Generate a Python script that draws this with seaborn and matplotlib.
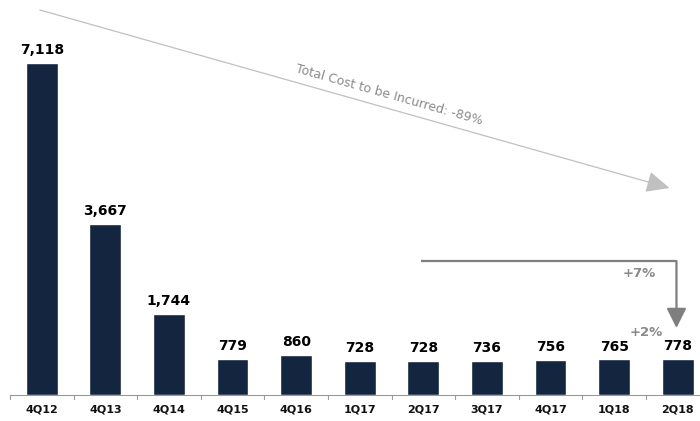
import matplotlib
matplotlib.use("Agg")
import matplotlib.pyplot as plt
import seaborn as sns
import pandas as pd

quarters = ["4Q12", "4Q13", "4Q14", "4Q15", "4Q16", "1Q17", "2Q17", "3Q17", "4Q17", "1Q18", "2Q18"]
cost = [7118, 3667, 1744, 779, 860, 728, 728, 736, 756, 765, 778]

sns.set_theme(style="white")
plt.rcParams["font.family"] = ["DejaVu Sans"]

df = pd.DataFrame({"quarter": quarters, "cost": cost})

fig = plt.figure(figsize=(7.0, 4.21), dpi=100)
ax = fig.add_axes([10 / 700, 26 / 421, 690 / 700, 395 / 421])

sns.barplot(data=df, x="quarter", y="cost", color="#13253F", width=0.5,
            saturation=1, ax=ax)

ax.set_xlim(-0.5, 10.35)
ax.set_ylim(0, 8467)
ax.set_xlabel("")
ax.set_ylabel("")
ax.set_yticks([])
for side in ("top", "right", "left"):
    ax.spines[side].set_visible(False)
ax.spines["bottom"].set_color("#999999")
ax.spines["bottom"].set_linewidth(0.8)

# category labels, with small ticks on the boundaries between categories
ax.tick_params(axis="x", length=0, pad=7)
for lbl in ax.get_xticklabels():
    lbl.set_fontweight("bold")
    lbl.set_fontsize(8)
    lbl.set_color("#111111")
for b in range(len(quarters)):
    ax.plot([b - 0.5, b - 0.5], [0, -90], color="#999999", lw=0.8, clip_on=False)

# value labels on top of the bars
for i, v in enumerate(cost):
    ax.text(i, v + 120, f"{v:,}", ha="center", va="bottom",
            fontsize=10, fontweight="heavy", color="#000000")

# long-run trend arrow
ax.annotate("", xy=(9.87, 4437), xytext=(-0.03, 8253),
            arrowprops=dict(arrowstyle="-|>,head_length=1.2,head_width=0.55",
                            color="#C0C0C0", lw=0.9, shrinkA=0, shrinkB=0))
ax.text(5.47, 6431, "Total Cost to be Incurred: -89%", rotation=-15.8,
        rotation_mode="anchor", ha="center", va="center",
        fontsize=9, color="#8A8A8A")

# recent change arrow
ax.plot([5.96, 9.98], [2872, 2872], color="#7F7F7F", lw=1.6, solid_capstyle="butt")
ax.annotate("", xy=(9.98, 1436), xytext=(9.98, 2872),
            arrowprops=dict(arrowstyle="-|>,head_length=1.0,head_width=0.5",
                            color="#7F7F7F", lw=1.6, shrinkA=0, shrinkB=0))
ax.text(9.40, 2615, "+7%", ha="center", va="center",
        fontsize=9.5, fontweight="bold", color="#8A8A8A")
ax.text(9.50, 1350, "+2%", ha="center", va="center",
        fontsize=9.5, fontweight="bold", color="#8A8A8A")

fig.savefig("out.png", dpi=100)
